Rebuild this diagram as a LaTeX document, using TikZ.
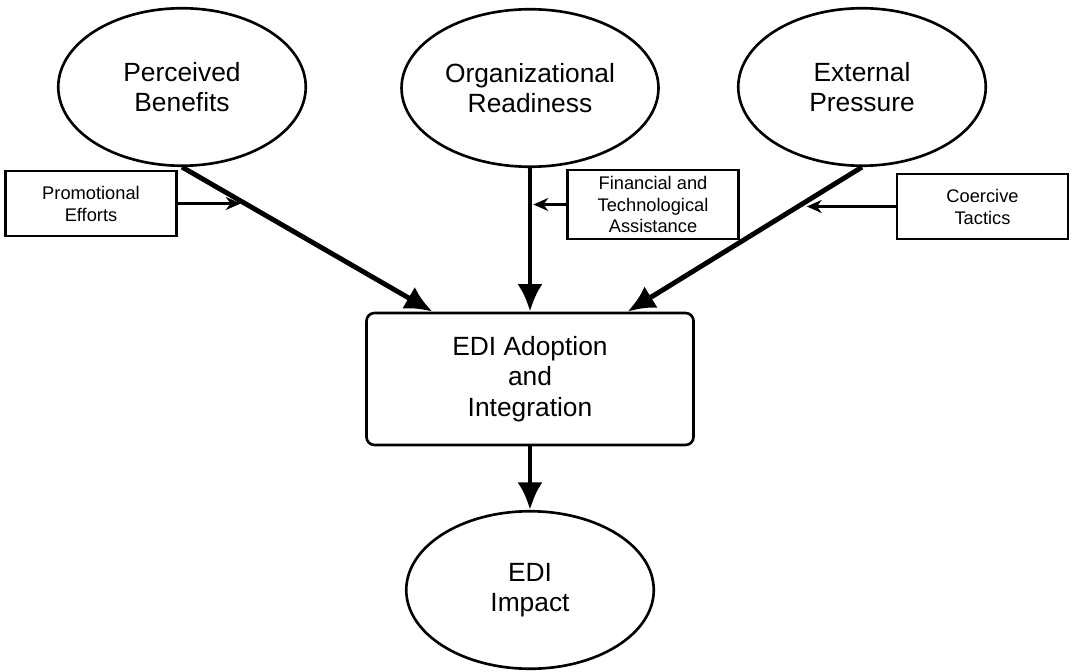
\documentclass[tikz,border=0pt]{standalone}
\usepackage{fontspec}
\setmainfont{Liberation Sans}
\usetikzlibrary{shapes.geometric,arrows.meta}
\begin{document}
\begin{tikzpicture}[main/.style = {draw, ellipse, line width=1.5pt, minimum width=4.95cm, minimum height=3.15cm, align=center, font=\fontsize{15}{17.2}\selectfont}, box/.style = {draw, line width=1.4pt, minimum width=3.42cm, minimum height=1.3cm, align=center, font=\fontsize{10.4}{12.5}\selectfont}, big/.style = {line width=2.8pt, -{Latex[length=5.5mm,width=5mm]}}, small/.style = {line width=1.5pt, -{Stealth[length=3mm,width=2.6mm]}}]
        \useasboundingbox (0,0) rectangle (21.46,13.42);
        \node[main] (1) at (3.64,11.68) {Perceived\\Benefits};
        \node[main] (2) at (10.6,11.66) {Organizational\\Readiness};
        \node[main] (3) at (17.24,11.68) {External\\Pressure};
        \node[draw, rounded corners=1.6mm, line width=1.5pt, minimum width=6.54cm, minimum height=2.64cm, align=center, font=\fontsize{15}{17.2}\selectfont] (4) at (10.6,5.84) {EDI Adoption\\and\\Integration};
        \node[main] (5) at (10.6,1.62) {EDI\\Impact};
        \node[box] (6) at (1.82,9.35) {Promotional\\Efforts};
        \node[box] (7) at (13.06,9.33) {Financial and\\Technological\\Assistance};
        \node[box] (8) at (19.65,9.29) {Coercive\\Tactics};
        \draw[big] (1.south) -- ([xshift=-1.95cm]4.north);
        \draw[big] (2.south) -- (4.north);
        \draw[big] (3.south) -- ([xshift=1.95cm]4.north);
        \draw[big] (4.south) -- (5.north);
        \draw[small] (6.east) -- ++(1.26,0);
        \draw[small] (7.west) -- ++(-0.66,0);
        \draw[small] (8.west) -- ++(-1.78,0);
    \end{tikzpicture}
\end{document}
